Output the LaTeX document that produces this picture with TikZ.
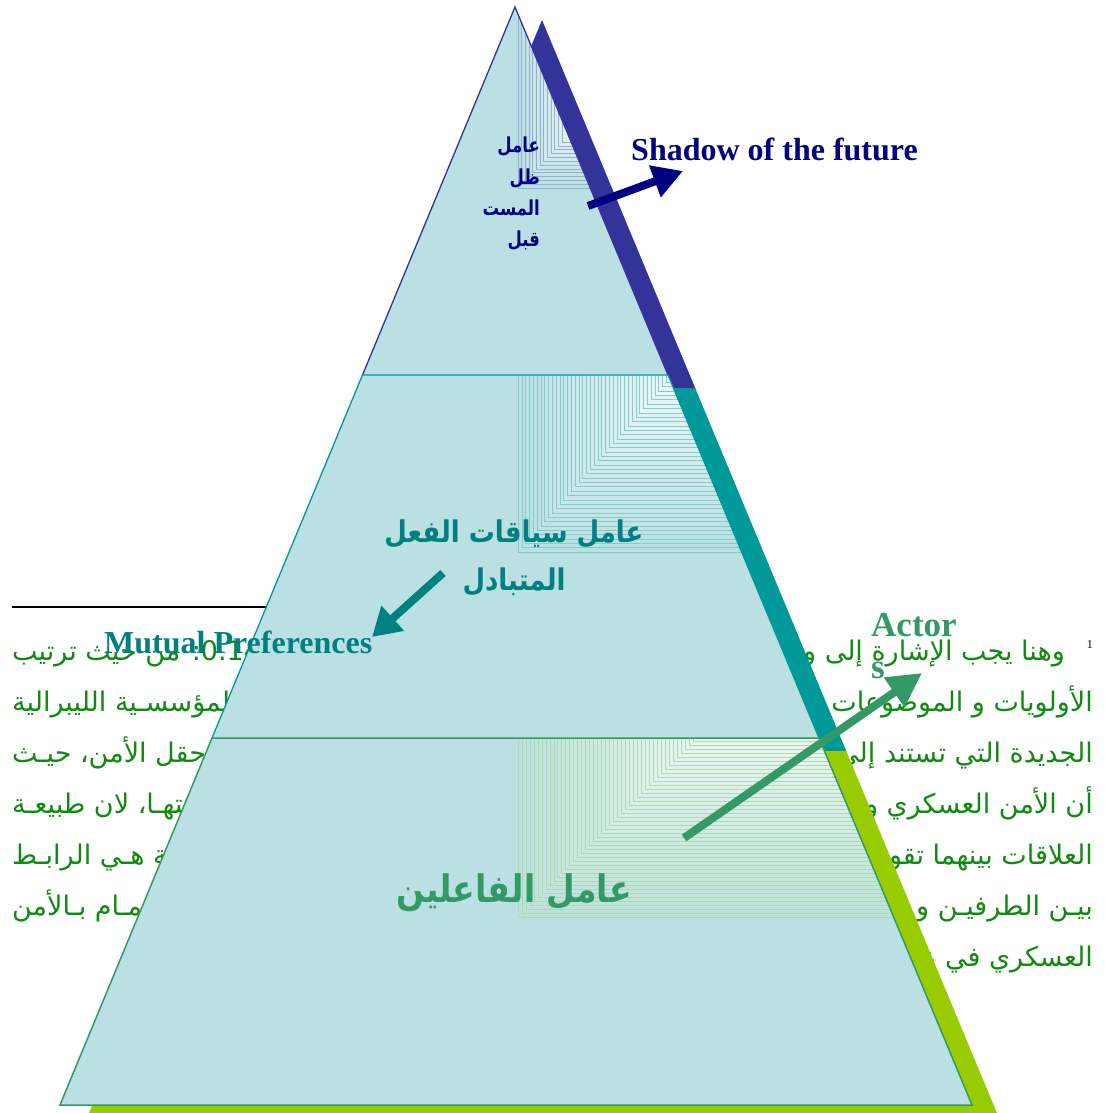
\documentclass[tikz,border=0pt]{standalone}
\usepackage{graphicx}
\usepackage{fontspec}
\setmainfont{Liberation Serif}
\newfontfamily\arabicfont[Script=Arabic]{DejaVu Sans}
\TeXXeTstate=1
\usetikzlibrary{arrows.meta}
\definecolor{pyrfill}{HTML}{BBE0E3}
\definecolor{cnavy}{HTML}{000080}
\definecolor{cteal}{HTML}{008080}
\definecolor{cgreen}{HTML}{339966}
\definecolor{bandA}{HTML}{333399}
\definecolor{bandB}{HTML}{009999}
\definecolor{bandC}{HTML}{99CC00}
\definecolor{txtgreen}{HTML}{108A10}
\tikzset{
  bodytext/.style={inner sep=0pt, text=txtgreen, font=\arabicfont\fontsize{27}{32}\selectfont},
  engbig/.style={inner sep=0pt, font=\bfseries\fontsize{32}{36}\selectfont},
  toplabel/.style={anchor=base east, inner sep=0pt, text=cnavy, font=\arabicfont\bfseries\fontsize{16.5}{20}\selectfont},
  midlabel/.style={anchor=base, inner sep=0pt, text=cteal, font=\arabicfont\bfseries\fontsize{26}{30}\selectfont},
  fatarrow/.style={line width=8pt},
}
\begin{document}
\begin{tikzpicture}[x=1pt,y=-1pt]
\useasboundingbox (0,0) rectangle (1104,1113);
\fill[white] (0,0) rectangle (1104,1113);

% ---------- background footnote text ----------
\draw[line width=2pt, black] (12,607) -- (300,607);
\node[anchor=base east, inner sep=0pt, font=\fontsize{12}{14}\selectfont] (fnmark) at (1093,648) {1};
\node[bodytext, anchor=base east] (r1) at (1065,660) {\beginR وهنا يجب الإشارة إلى و\endR};
\node[bodytext, anchor=base east] (r2) at (1093,711) {\beginR الأولويات و الموضوعات\endR};
\node[bodytext, anchor=base east] (r3) at (1093,762) {\beginR الجديدة التي تستند إلى\endR};
\node[bodytext, anchor=base east] (r4) at (1093,813) {\beginR أن الأمن العسكري و\endR};
\node[bodytext, anchor=base east] (r5) at (1093,864) {\beginR العلاقات بينهما تقوم\endR};
\node[bodytext, anchor=base east] (r6) at (1093,915) {\beginR بيـن الطرفيـن و\endR};
\node[bodytext, anchor=base east] (r7) at (1093,966) {\beginR العسكري في عـ\endR};

\node[bodytext, anchor=base west] (l1) at (12,660) {\beginR\beginL 0.14\endL: من حيث ترتيب\endR};
\node[bodytext, anchor=base west] (l2) at (12,711) {\beginR المؤسسـية الليبرالية\endR};
\node[bodytext, anchor=base west] (l3) at (12,762) {\beginR حقل الأمن،  حيـث\endR};
\node[bodytext, anchor=base west] (l4) at (12,813) {\beginR ـتهـا، لان طبيعـة\endR};
\node[bodytext, anchor=base west] (l5) at (12,864) {\beginR ـة هـي الرابـط\endR};
\node[bodytext, anchor=base west] (l6) at (12,915) {\beginR ـمـام بـالأمن\endR};

% ---------- shadow (3D side) ----------
\begin{scope}
  \clip (0,0) rectangle (1104,388);
  \fill[bandA] (542,20) -- (87,1118) -- (999,1118) -- cycle;
\end{scope}
\begin{scope}
  \clip (0,388) rectangle (1104,751);
  \fill[bandB] (542,20) -- (87,1118) -- (999,1118) -- cycle;
\end{scope}
\begin{scope}
  \clip (0,751) rectangle (1104,1113);
  \fill[bandC] (542,20) -- (87,1118) -- (999,1118) -- cycle;
\end{scope}

% ---------- pyramid body ----------
\fill[pyrfill] (515,7) -- (60,1105) -- (972,1105) -- cycle;

% gradient-like patterns
\begin{scope}
  \clip (515,7) -- (362.5,375) -- (668,375) -- cycle;
  \foreach \i in {0,...,12}{
    \pgfmathsetmacro\xx{518+(562-518)*\i/12}
    \pgfmathsetmacro\yy{188+(142-188)*\i/12}
    \pgfmathsetmacro\pp{int(55*\i/12)}
    \filldraw[fill=white!\pp!pyrfill, draw=bandA!28!pyrfill, line width=0.6pt] (\xx,-5) rectangle (1000,\yy);
  }
\end{scope}
\begin{scope}
  \clip (362.5,375.8) -- (668,375.8) -- (819,738) -- (212,738) -- cycle;
  \foreach \i in {0,...,40}{
    \pgfmathsetmacro\xx{518+(670-518)*\i/40}
    \pgfmathsetmacro\yy{552+(378-552)*\i/40}
    \pgfmathsetmacro\pp{int(75*\i/40)}
    \filldraw[fill=white!\pp!pyrfill, draw=bandB!30!pyrfill, line width=0.6pt] (\xx,370) rectangle (1000,\yy);
  }
\end{scope}
\begin{scope}
  \clip (212,738.8) -- (819,738.8) -- (972,1105) -- (60,1105) -- cycle;
  \foreach \i in {0,...,44}{
    \pgfmathsetmacro\xx{518+(693-518)*\i/44}
    \pgfmathsetmacro\yy{917+(741-917)*\i/44}
    \pgfmathsetmacro\pp{int(70*\i/44)}
    \filldraw[fill=white!\pp!pyrfill, draw=bandC!30!pyrfill, line width=0.6pt] (\xx,733) rectangle (1000,\yy);
  }
\end{scope}

% outlines
\draw[bandA, line width=1.3pt] (362.5,375) -- (515,7) -- (668,375);
\draw[bandB, line width=1.3pt] (212,738) -- (362.5,375) -- (668,375) -- (819,738);
\draw[cgreen, line width=1.5pt] (212,738) -- (60,1105) -- (972,1105) -- (819,738) -- cycle;

% ---------- labels ----------
\node[toplabel] (t1) at (540,153) {\scalebox{1}[1.25]{\beginR عامل\endR}};
\node[toplabel] (t2) at (540,184) {\scalebox{1}[1.25]{\beginR ظل\endR}};
\node[toplabel] (t3) at (540,215) {\scalebox{1}[1.25]{\beginR المست\endR}};
\node[toplabel] (t4) at (540,246) {\scalebox{1}[1.25]{\beginR قبل\endR}};

\node[engbig, anchor=base west, text=cnavy] (shadow) at (631,160) {Shadow of the future};

\node[midlabel] (m1) at (514,542) {\scalebox{1}[1.15]{\beginR عامل سياقات الفعل\endR}};
\node[midlabel] (m2) at (514,590) {\scalebox{1}[1.15]{\beginR المتبادل\endR}};

\node[engbig, anchor=base west, text=cteal] (mutual) at (104,653) {Mutual Preferences};

\node[anchor=base, inner sep=0pt, text=cgreen, font=\arabicfont\bfseries\fontsize{33}{38}\selectfont] (b1) at (514,902) {\scalebox{1}[1.15]{\beginR عامل الفاعلين\endR}};

\node[anchor=base west, inner sep=0pt, text=cgreen, font=\bfseries\fontsize{35}{40}\selectfont] (actor) at (871,636) {Actor};
\node[anchor=base west, inner sep=0pt, text=cgreen, font=\bfseries\fontsize{35}{40}\selectfont] (actors) at (871,678) {s};

% ---------- arrows ----------
\coordinate (a1s) at (588,206);
\coordinate (a1e) at (683,171);
\draw[fatarrow, cnavy, -{Triangle[length=30pt,width=32pt]}] (a1s) -- (a1e);

\coordinate (a2s) at (443,573);
\coordinate (a2e) at (372,637);
\draw[fatarrow, cteal, -{Triangle[length=28pt,width=32pt]}] (a2s) -- (a2e);

\coordinate (a3s) at (684,838);
\coordinate (a3e) at (922,673);
\draw[fatarrow, cgreen, -{Triangle[length=34pt,width=34pt]}] (a3s) -- (a3e);
\end{tikzpicture}
\end{document}
